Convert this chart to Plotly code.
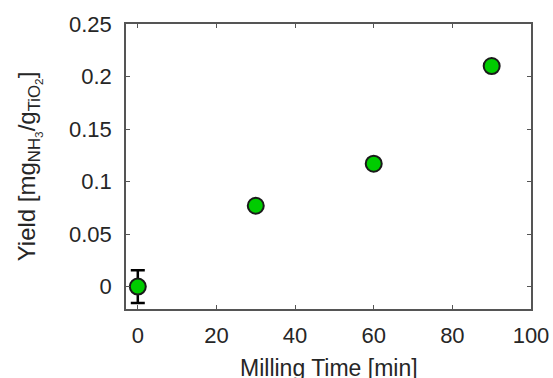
import plotly.graph_objects as go

milling_time = [0, 30, 60, 90]
yield_vals = [0.0, 0.077, 0.117, 0.21]
yield_err = [0.0155, 0, 0, 0]
x_ticks = [0, 20, 40, 60, 80, 100]
y_ticks = [0, 0.05, 0.1, 0.15, 0.2, 0.25]
y_tick_labels = ["0", "0.05", "0.1", "0.15", "0.2", "0.25"]
x_title = "Milling Time [min]"
y_title = "Yield [mg<sub>NH<sub>3</sub></sub>/g<sub>TiO<sub>2</sub></sub>]"

fig = go.Figure()
fig.add_trace(go.Scatter(
    x=milling_time, y=yield_vals, mode="markers",
    error_y=dict(type="data", array=yield_err, visible=True, color="black", thickness=2.5, width=7),
    marker=dict(size=16, color="#00CC00", line=dict(color="#1a1a1a", width=2)),
    showlegend=False,
))

font_color = "#262626"
fam = "Liberation Sans, Arial"
axis_common = dict(
    showline=True, linecolor="#555555", linewidth=1.5, mirror="ticks",
    ticks="inside", ticklen=4, tickcolor="#555555", tickwidth=1,
    showgrid=False, zeroline=False, automargin=False,
    tickfont=dict(family=fam, size=22, color=font_color),
)

fig.update_layout(
    width=553, height=378,
    margin=dict(l=126, r=22, t=24, b=69),
    plot_bgcolor="white", paper_bgcolor="white",
    xaxis=dict(range=[-3, 100], tickvals=x_ticks, ticklabelstandoff=6, **axis_common),
    yaxis=dict(range=[-0.0213, 0.25], tickvals=y_ticks, ticktext=y_tick_labels, ticklabelstandoff=8,
               title=dict(text=y_title, standoff=27,
                          font=dict(family=fam, size=24, color=font_color)),
               **axis_common),
    annotations=[dict(text=x_title, xref="paper", yref="paper", x=0.5, y=0,
                      xanchor="center", yanchor="top", yshift=-44, showarrow=False,
                      font=dict(family=fam, size=23, color=font_color))],
)

fig.write_html("out.html", config={"displayModeBar": False},
               post_script="document.body.style.margin='0';document.body.style.overflow='hidden';")
